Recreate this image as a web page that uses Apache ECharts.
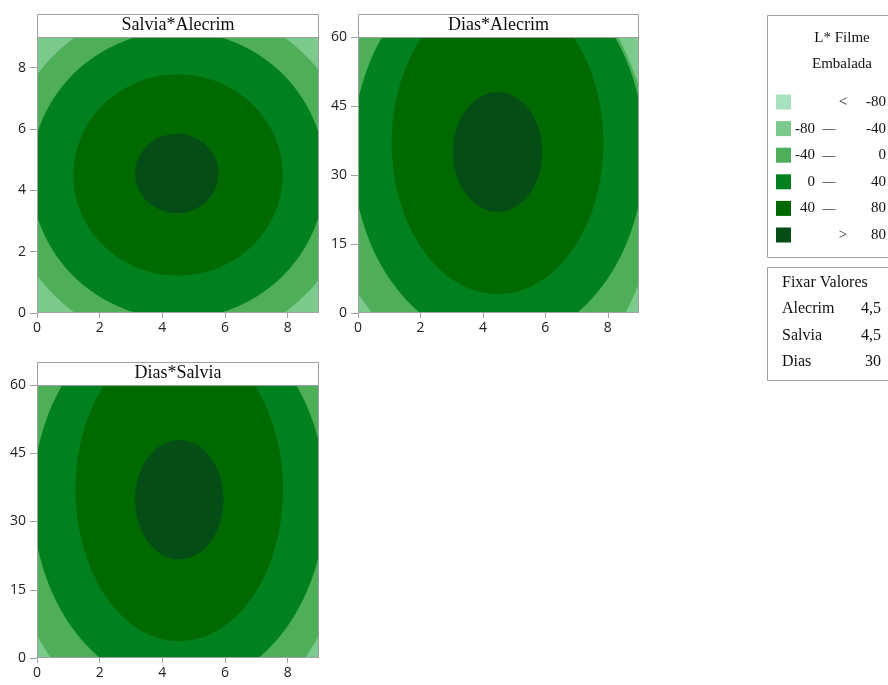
<!DOCTYPE html>
<html>
<head>
<meta charset="utf-8">
<title>L* Filme Embalada</title>
<script src="https://cdn.jsdelivr.net/npm/echarts@6/dist/echarts.min.js"></script>
<style>
  html, body { margin: 0; padding: 0; background: #ffffff; }
  #chart { width: 888px; height: 685px; }
</style>
</head>
<body>
<div id="chart"></div>
<script>
// Contour plots of L* Filme Embalada, one panel per factor pair.

const panelTitles = ['Salvia*Alecrim', 'Dias*Alecrim', 'Dias*Salvia'];

// Contour levels, lightest to darkest
const levelColors = ['#a6e2bd', '#7cca8b', '#4fae5a', '#00801f', '#006a00', '#044d17'];
const levelLow = ['', '-80', '-40', '0', '40', ''];
const levelSep = ['<', '\u2014', '\u2014', '\u2014', '\u2014', '>'];
const levelHigh = ['-80', '-40', '0', '40', '80', '80'];

// Fixed (hold) values
const holdNames = ['Alecrim', 'Salvia', 'Dias'];
const holdValues = ['4,5', '4,5', '30'];

// Axis ticks
const xTicks = [0, 2, 4, 6, 8];
const yTicksSalvia = [0, 2, 4, 6, 8];
const yTicksDias = [0, 15, 30, 45, 60];

// Contour boundaries:
// [centre x, centre y, half-width x, half-height y, x drift per unit y, level index of the region inside]
const contoursSalviaAlecrim = [
  [4.55, 4.5, 5.6, 5.6, 0, 2],
  [4.5, 4.5, 4.69, 4.69, 0, 3],
  [4.5, 4.5, 3.34, 3.28, 0, 4],
  [4.46, 4.55, 1.33, 1.29, 0, 5]
];
const contoursDiasAlecrim = [
  [3.92, 35, 5.53, 51.4, -0.0167, 2],
  [4.5, 35, 4.67, 41.5, 0, 3],
  [4.47, 37, 3.39, 32.9, 0, 4],
  [4.47, 35, 1.43, 13.0, 0, 5]
];
const contoursDiasSalvia = [
  [4.5, 35, 5.54, 51.4, 0, 2],
  [4.54, 35, 4.67, 41.6, 0, 3],
  [4.54, 37, 3.31, 33.3, 0, 4],
  [4.54, 34.8, 1.41, 13.1, 0, 5]
];

const panels = [
  { rect: { left: 37, top: 37, width: 282, height: 276 }, yMax: 9, yTicks: yTicksSalvia, contours: contoursSalviaAlecrim },
  { rect: { left: 358, top: 37, width: 281, height: 276 }, yMax: 60, yTicks: yTicksDias, contours: contoursDiasAlecrim },
  { rect: { left: 37, top: 385, width: 282, height: 273 }, yMax: 60, yTicks: yTicksDias, contours: contoursDiasSalvia }
];

const axisGrey = '#a0a0a0';
const tickFont = { fontFamily: 'Open Sans', fontSize: 14, color: '#222222' };
const serif = 'Liberation Serif';

// Filled ellipse for one contour boundary; the centre goes through the axes,
// the half-axes through the axes' unit size (so shapes may run past the frame).
function renderContour(params, api) {
  const cx = api.value(0), cy = api.value(1), rx = api.value(2), ry = api.value(3);
  const drift = api.value(4);
  const lvl = api.value(5);
  const c = api.coord([cx, cy]);
  const unit = api.size([1, 1], [cx, cy]);
  const pts = [];
  const n = 180;
  for (let k = 0; k < n; k++) {
    const t = k / n * Math.PI * 2;
    const dy = ry * Math.sin(t);
    const dx = rx * Math.cos(t) + drift * dy;
    pts.push([c[0] + dx * unit[0], c[1] - dy * unit[1]]);
  }
  const cs = params.coordSys;
  return {
    type: 'polygon',
    shape: { points: pts },
    style: { fill: levelColors[lvl], stroke: null },
    clipPath: { type: 'rect', shape: { x: cs.x, y: cs.y, width: cs.width, height: cs.height } }
  };
}

const grids = [], xAxes = [], yAxes = [], series = [], graphics = [];

panels.forEach((p, i) => {
  grids.push(Object.assign({ show: true, backgroundColor: levelColors[1], borderWidth: 0 }, p.rect));
  xAxes.push({
    type: 'value', gridIndex: i, min: 0, max: 9,
    axisLine: { show: false },
    splitLine: { show: false },
    axisTick: { show: true, length: 5, lineStyle: { color: axisGrey }, customValues: xTicks },
    axisLabel: Object.assign({ margin: 8, customValues: xTicks }, tickFont)
  });
  yAxes.push({
    type: 'value', gridIndex: i, min: 0, max: p.yMax,
    axisLine: { show: false },
    splitLine: { show: false },
    axisTick: { show: true, length: 7, lineStyle: { color: axisGrey }, customValues: p.yTicks },
    axisLabel: Object.assign({ margin: 11, customValues: p.yTicks }, tickFont)
  });
  series.push({
    type: 'custom', xAxisIndex: i, yAxisIndex: i,
    renderItem: renderContour,
    clip: true,
    encode: { x: 0, y: 1 },
    data: p.contours,
    silent: true
  });
  // frame around the plot area
  graphics.push({
    type: 'rect', z: 100, silent: true,
    shape: { x: p.rect.left + 0.5, y: p.rect.top + 0.5, width: p.rect.width - 1, height: p.rect.height - 1 },
    style: { fill: null, stroke: axisGrey, lineWidth: 1 }
  });
  // title strip
  graphics.push({
    type: 'rect', z: 100, silent: true,
    shape: { x: p.rect.left + 0.5, y: p.rect.top - 23 + 0.5, width: p.rect.width - 1, height: 23 },
    style: { fill: '#ffffff', stroke: axisGrey, lineWidth: 1 }
  });
  graphics.push({
    type: 'text', z: 101, silent: true,
    x: p.rect.left + p.rect.width / 2, y: p.rect.top - 11.5,
    style: { text: panelTitles[i], fontFamily: serif, fontSize: 18, fill: '#111111', align: 'center', verticalAlign: 'middle' }
  });
});

// Legend box
const lgX = 767;
const lgFont = 15;
graphics.push({
  type: 'rect', z: 100, silent: true,
  shape: { x: lgX + 0.5, y: 15.5, width: 140, height: 242 },
  style: { fill: '#ffffff', stroke: axisGrey, lineWidth: 1 }
});
graphics.push({ type: 'text', z: 101, silent: true, x: 842, y: 38,
  style: { text: 'L* Filme', fontFamily: serif, fontSize: lgFont, fill: '#111', align: 'center', verticalAlign: 'middle' } });
graphics.push({ type: 'text', z: 101, silent: true, x: 842, y: 64,
  style: { text: 'Embalada', fontFamily: serif, fontSize: lgFont, fill: '#111', align: 'center', verticalAlign: 'middle' } });
levelColors.forEach((c, i) => {
  const yc = 102 + i * 26.6;
  graphics.push({ type: 'rect', z: 101, silent: true,
    shape: { x: 776, y: yc - 7.5, width: 15, height: 15 }, style: { fill: c } });
  const isDash = levelSep[i] === '\u2014';
  graphics.push({ type: 'text', z: 101, silent: true, x: 815, y: yc,
    style: { text: levelLow[i], fontFamily: serif, fontSize: lgFont, fill: '#111', align: 'right', verticalAlign: 'middle' } });
  graphics.push({ type: 'text', z: 101, silent: true, x: isDash ? 829 : 843, y: yc,
    style: { text: levelSep[i], fontFamily: serif, fontSize: isDash ? 13 : lgFont, fill: '#111', align: 'center', verticalAlign: 'middle' } });
  graphics.push({ type: 'text', z: 101, silent: true, x: 886, y: yc,
    style: { text: levelHigh[i], fontFamily: serif, fontSize: lgFont, fill: '#111', align: 'right', verticalAlign: 'middle' } });
});

// Hold values box
graphics.push({
  type: 'rect', z: 100, silent: true,
  shape: { x: lgX + 0.5, y: 267.5, width: 140, height: 113 },
  style: { fill: '#ffffff', stroke: axisGrey, lineWidth: 1 }
});
graphics.push({ type: 'text', z: 101, silent: true, x: 782, y: 283,
  style: { text: 'Fixar Valores', fontFamily: serif, fontSize: 16, fill: '#111', align: 'left', verticalAlign: 'middle' } });
holdNames.forEach((nm, i) => {
  const yc = 309 + i * 26.5;
  graphics.push({ type: 'text', z: 101, silent: true, x: 782, y: yc,
    style: { text: nm, fontFamily: serif, fontSize: 16, fill: '#111', align: 'left', verticalAlign: 'middle' } });
  graphics.push({ type: 'text', z: 101, silent: true, x: 881, y: yc,
    style: { text: holdValues[i], fontFamily: serif, fontSize: 16, fill: '#111', align: 'right', verticalAlign: 'middle' } });
});

const chart = echarts.init(document.getElementById('chart'), null, { renderer: 'canvas' });
chart.setOption({
  animation: false,
  backgroundColor: '#ffffff',
  grid: grids,
  xAxis: xAxes,
  yAxis: yAxes,
  series: series,
  graphic: graphics
});
</script>
</body>
</html>
